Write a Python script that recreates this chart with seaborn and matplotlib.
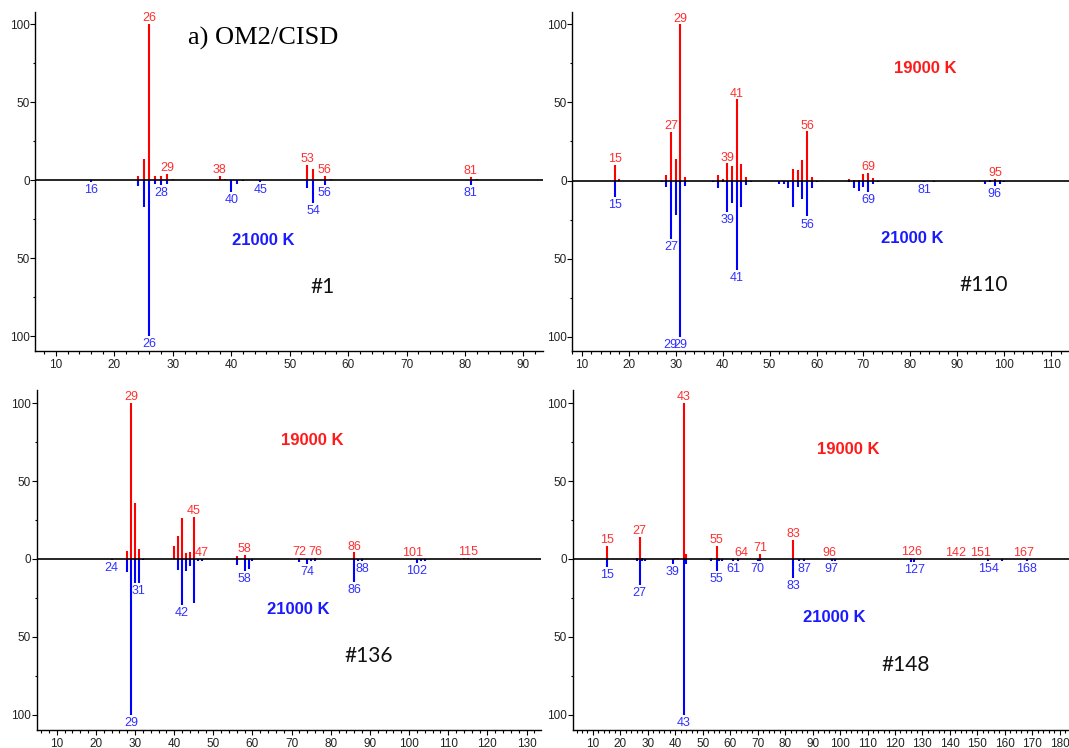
import seaborn as sns
import matplotlib.pyplot as plt
from matplotlib.ticker import MultipleLocator, FuncFormatter

sns.set_style("ticks")
plt.rcParams['font.family'] = ['Liberation Sans', 'DejaVu Sans']

# ---- panel #1 (21000 K only) ----
p1_red_mz = [24, 25, 26, 27, 28, 29, 30, 38, 39, 53, 54, 56, 57, 81, 82]
p1_red_int = [2.9, 13.2, 100, 2.5, 2.9, 4.1, 0.4, 2.5, 0.4, 9.7, 7.2, 2.9, 0.4, 2.0, 0.4]
p1_blue_mz = [16, 24, 25, 26, 27, 28, 29, 40, 41, 42, 45, 53, 54, 56, 81]
p1_blue_int = [-1.0, -3.7, -17.0, -100, -2.3, -3.3, -2.7, -7.8, -2.3, -0.5, -1.0, -4.8, -14.5, -3.3, -3.2]
p1_red_lab = [26, 29, 38, 53, 56, 81]
p1_blue_lab = [16, 26, 28, 40, 45, 54, 56, 81]

# ---- panel #110 ----
p2_red_mz = [17, 18, 28, 29, 30, 31, 32, 39, 40, 41, 42, 43, 44, 45, 55, 56, 57, 58, 59,
             67, 68, 69, 70, 71, 72, 97, 98, 99]
p2_red_int = [10, 1, 3.6, 31, 14, 100, 2, 3.6, 1, 11, 9.4, 52, 10.5, 2, 7.5, 6.9, 13.3, 31.5, 2,
              1, 0.5, 0.5, 4.3, 5, 1.5, 0.5, 1, 0.5]
p2_blue_mz = [17, 18, 19, 26, 27, 28, 29, 30, 31, 32, 38, 39, 40, 41, 42, 43, 44, 45, 46,
              52, 53, 54, 55, 56, 57, 58, 59, 60, 67, 68, 69, 70, 71, 72, 73, 83, 85,
              96, 97, 98, 99, 100]
p2_blue_int = [-10.3, -0.5, -0.5, -0.5, -1, -4, -37.5, -22, -100, -3.4, -1, -5, -1, -20, -14.6, -57, -16.7, -2.8, -1,
               -2, -2, -4.5, -16.7, -3.9, -12, -23, -4.5, -1, -1, -4.5, -6.6, -3.9, -7.5, -2.4, -1, -1, -1,
               -2, -1, -3.4, -2, -1]
p2_red_lab = [17, 29, 31, 41, 43, 58, 71, 98]
p2_red_txt = ["15", "27", "29", "39", "41", "56", "69", "95"]
p2_blue_lab = [17, 29, 31, 41, 43, 58, 71, 83, 98]
p2_blue_txt = ["15", "27", "29", "39", "41", "56", "69", "81", "96"]

# ---- panel #136 ----
p3_red_mz = [28, 29, 30, 31, 40, 41, 42, 43, 44, 45, 56, 58, 72, 76, 84, 86, 101, 114, 115]
p3_red_int = [4.9, 100, 36, 6.4, 8.1, 15, 26.5, 3.9, 4.5, 27, 1.7, 2.8, 0.5, 0.5, 0.3, 4.3, 0.3, 0.8, 0.8]
p3_blue_mz = [24, 28, 29, 30, 31, 32, 41, 42, 43, 44, 45, 46, 47, 56, 58, 59, 60,
              72, 74, 75, 76, 86, 87, 88, 102, 103, 104]
p3_blue_int = [-0.5, -8.6, -100, -15.5, -15.5, -0.5, -6.9, -29.5, -8, -4.7, -28, -1, -1, -3.6, -7.9, -6.4, -1,
               -2.1, -3.2, -1, -1, -14.5, -1, -1, -2.8, -1, -1]
p3_red_lab = [29, 45, 47, 58, 72, 76, 86, 101, 115]
p3_blue_lab = [24, 29, 31, 42, 58, 74, 86, 88, 102]

# ---- panel #148 ----
p4_red_mz = [15, 26, 27, 28, 40, 41, 43, 44, 53, 55, 56, 64, 71, 83, 96, 126, 142, 151, 167]
p4_red_int = [8.6, 0.5, 14.1, 0.5, 0.7, 0.7, 100, 3.2, 0.5, 8.6, 0.5, 0.3, 3.2, 12.4, 0.3, 0.5, 0.3, 0.3, 0.3]
p4_blue_mz = [15, 26, 27, 28, 29, 39, 43, 44, 53, 55, 56, 57, 61, 63, 70, 71, 83, 85, 87,
              97, 98, 126, 127, 154, 159, 168]
p4_blue_int = [-5.1, -1.5, -16.5, -1, -1, -3.2, -100, -3.2, -1, -7.9, -1, -1, -1.5, -1.5, -1.5, -1, -12.4, -1.5, -1,
               -1.5, -1.5, -2, -2, -1, -1, -1]
p4_red_lab = [15, 27, 43, 55, 64, 71, 83, 96, 126, 142, 151, 167]
p4_blue_lab = [15, 27, 39, 43, 55, 61, 70, 83, 87, 97, 127, 154, 168]

RED, BLUE = '#ff0000', '#0000ff'
RED_TXT, BLUE_TXT = '#ff3030', '#3030ff'

panels = [
    dict(rect=[0.0332, 0.5307, 0.4745, 0.4532], xlim=(6.5, 93.3), ylim=(-109.6, 107.7),
         red=(p1_red_mz, p1_red_int), blue=(p1_blue_mz, p1_blue_int),
         red_lab=(p1_red_lab, None), blue_lab=(p1_blue_lab, None),
         hot=None, cold=(45.4, -38.9), tag=("#1", 55.6, -68.8)),
    dict(rect=[0.5355, 0.5307, 0.4645, 0.4532], xlim=(8.0, 113.8), ylim=(-109.2, 107.9),
         red=(p2_red_mz, p2_red_int), blue=(p2_blue_mz, p2_blue_int),
         red_lab=(p2_red_lab, p2_red_txt), blue_lab=(p2_blue_lab, p2_blue_txt),
         hot=(83.2, 71.9), cold=(80.4, -36.9), tag=("#110", 95.6, -67)),
    dict(rect=[0.0344, 0.0241, 0.4717, 0.4545], xlim=(4.9, 133.7), ylim=(-109.8, 108.5),
         red=(p3_red_mz, p3_red_int), blue=(p3_blue_mz, p3_blue_int),
         red_lab=(p3_red_lab, None), blue_lab=(p3_blue_lab, None),
         hot=(75.3, 75.8), cold=(71.6, -32.3), tag=("#136", 89.8, -62.3)),
    dict(rect=[0.5357, 0.0241, 0.4643, 0.4545], xlim=(2.6, 183.4), ylim=(-109.8, 108.5),
         red=(p4_red_mz, p4_red_int), blue=(p4_blue_mz, p4_blue_int),
         red_lab=(p4_red_lab, None), blue_lab=(p4_blue_lab, None),
         hot=(102.9, 70.4), cold=(97.9, -37.7), tag=("#148", 123.8, -68)),
]

fig = plt.figure(figsize=(10.69, 7.48), dpi=100)
axes = []

for p in panels:
    ax = fig.add_axes(p['rect'])
    axes.append(ax)
    rmz, rint = p['red']
    bmz, bint = p['blue']
    ax.vlines(rmz, 0, rint, color=RED, lw=1.5)
    ax.vlines(bmz, bint, 0, color=BLUE, lw=1.5)
    ax.axhline(0, color='black', lw=1.2, zorder=3)

    # peak labels
    lx, lt = p['red_lab']
    for i, x in enumerate(lx):
        y = max([v for m, v in zip(rmz, rint) if m == x], default=0)
        txt = lt[i] if lt else str(x)
        ax.annotate(txt, (x, y), xytext=(0, 2), textcoords='offset points',
                    ha='center', va='baseline', color=RED_TXT, fontsize=9)
    lx, lt = p['blue_lab']
    for i, x in enumerate(lx):
        y = min([v for m, v in zip(bmz, bint) if m == x], default=0)
        txt = lt[i] if lt else str(x)
        ax.annotate(txt, (x, y), xytext=(0, -1.5), textcoords='offset points',
                    ha='center', va='top', color=BLUE_TXT, fontsize=9)

    if p['hot']:
        ax.text(*p['hot'], "19000 K", color='#ff1a1a', fontsize=12, fontweight='bold',
                ha='center', va='center')
    ax.text(*p['cold'], "21000 K", color='#1a1aff', fontsize=12, fontweight='bold',
            ha='center', va='center')
    ax.text(p['tag'][1], p['tag'][2], p['tag'][0], color='#111111', fontsize=15,
            family=['Lato', 'DejaVu Sans'], ha='center', va='center')

    ax.set_xlim(*p['xlim'])
    ax.set_ylim(*p['ylim'])
    ax.xaxis.set_major_locator(MultipleLocator(10))
    ax.xaxis.set_minor_locator(MultipleLocator(2))
    ax.set_yticks([-100, -50, 0, 50, 100])
    ax.yaxis.set_minor_locator(MultipleLocator(25))
    ax.yaxis.set_major_formatter(FuncFormatter(lambda v, pos: f"{abs(v):.0f}"))
    ax.tick_params(which='major', length=3.5, width=0.8, labelsize=8.5,
                   labelcolor='#222222', color='black')
    ax.tick_params(axis='y', which='major', pad=0.5)
    ax.tick_params(axis='x', which='major', pad=2)
    ax.tick_params(which='minor', length=1.8, width=0.8, color='black')
    sns.despine(ax=ax)
    for s in ('left', 'bottom'):
        ax.spines[s].set_color('black')
        ax.spines[s].set_linewidth(1.0)

# overlapping duplicate label under the base peak of #110
axes[1].annotate("29", (31, -100), xytext=(-7.3, -1.5), textcoords='offset points',
                 ha='center', va='top', color=BLUE_TXT, fontsize=9)

axes[0].text(45.4, 90.8, "a) OM2/CISD", family=['Liberation Serif', 'DejaVu Serif'],
             fontsize=19, ha='center', va='center', color='black')

fig.savefig('out.png', dpi=100)
